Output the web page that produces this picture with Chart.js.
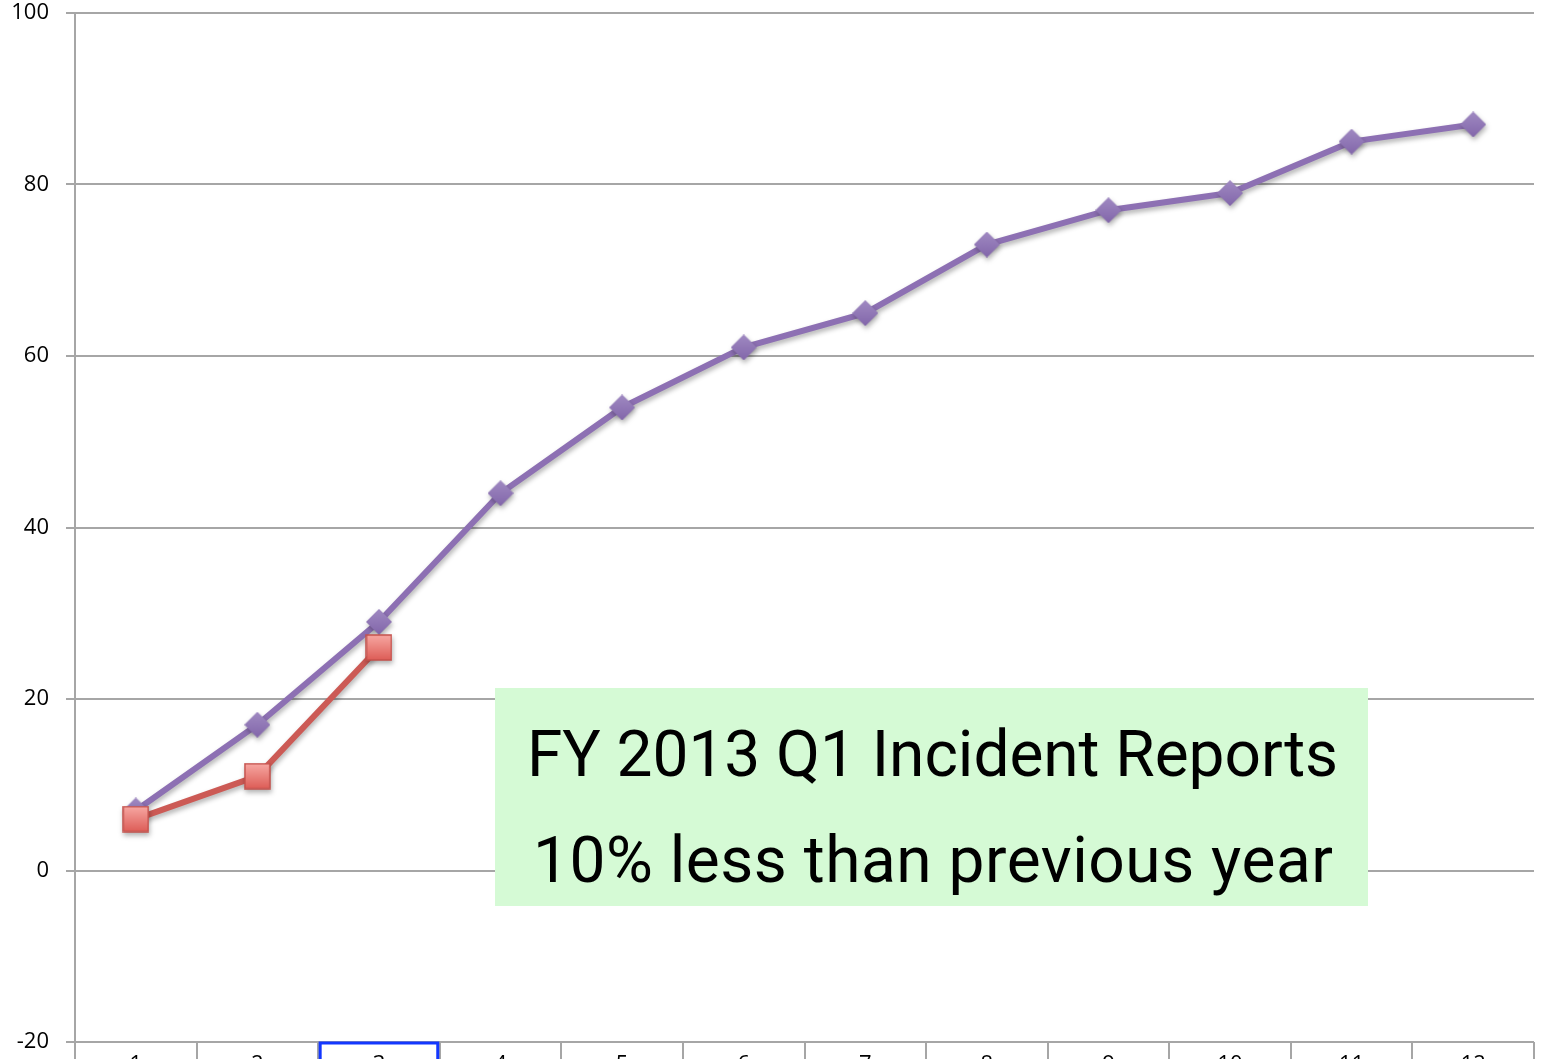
<!DOCTYPE html>
<html>
<head>
<meta charset="utf-8">
<script src="https://cdn.jsdelivr.net/npm/chart.js@4"></script>
<style>
  html, body { margin: 0; padding: 0; background: #fff; overflow: hidden; }
  #wrap { width: 1553px; height: 1096px; margin-top: -6px; }
</style>
</head>
<body>
<div id="wrap"><canvas id="chart"></canvas></div>
<script>
// Chart data
const months = ['1', '2', '3', '4', '5', '6', '7', '8', '9', '10', '11', '12'];
const previousYear = [7, 17, 29, 44, 54, 61, 65, 73, 77, 79, 85, 87];
const currentYear = [6, 11, 26];
const yTicks = [-20, 0, 20, 40, 60, 80, 100];
const noteLines = ['FY 2013 Q1 Incident Reports', '10% less than previous year'];

// canvas sits 6px above the page top
const shiftY = 6;

/**
 * Build marker images so they get a bit of shading like the original
 */
function makeSquare(size) {
    const c = document.createElement('canvas');
    c.width = size; c.height = size;
    const ctx = c.getContext('2d');
    const g = ctx.createLinearGradient(0, 0, 0, size);
    g.addColorStop(0, '#f8aaa5');
    g.addColorStop(1, '#dc5a54');
    ctx.fillStyle = g;
    ctx.fillRect(1, 1, size - 2, size - 2);
    ctx.strokeStyle = '#c4504b';
    ctx.lineWidth = 1.5;
    ctx.strokeRect(1, 1, size - 2, size - 2);
    return c;
}

function makeDiamond(size) {
    const c = document.createElement('canvas');
    c.width = size; c.height = size;
    const ctx = c.getContext('2d');
    const h = size / 2;
    const g = ctx.createLinearGradient(0, 0, 0, size);
    g.addColorStop(0, '#a08ac2');
    g.addColorStop(1, '#8266aa');
    ctx.fillStyle = g;
    ctx.beginPath();
    ctx.moveTo(h, 0);
    ctx.lineTo(size, h);
    ctx.lineTo(h, size);
    ctx.lineTo(0, h);
    ctx.closePath();
    ctx.fill();
    return c;
}

// Soft drop shadow under the series
const shadowPlugin = {
    id: 'shadow',
    beforeDatasetDraw(chart) {
        const ctx = chart.ctx;
        ctx.save();
        ctx.shadowColor = 'rgba(0,0,0,0.3)';
        ctx.shadowBlur = 5;
        ctx.shadowOffsetX = 1;
        ctx.shadowOffsetY = 3;
    },
    afterDatasetDraw(chart) {
        chart.ctx.restore();
    }
};

// Green note box and the selected category label outline
const notePlugin = {
    id: 'note',
    afterDraw(chart) {
        const ctx = chart.ctx;
        const x = chart.scales.x;
        ctx.save();

        // selected label box around category 3
        const half = (x.getPixelForValue(1) - x.getPixelForValue(0)) / 2;
        const cx = x.getPixelForValue(2);
        ctx.strokeStyle = '#1337ff';
        ctx.lineWidth = 3;
        ctx.strokeRect(cx - half + 2, chart.chartArea.bottom + 1, half * 2 - 4, 60);

        // note
        ctx.fillStyle = '#d5fad5';
        ctx.fillRect(495, 688 + shiftY, 873, 218);
        ctx.fillStyle = '#000';
        ctx.textAlign = 'left';
        ctx.textBaseline = 'alphabetic';
        const lefts = [527, 533];
        const widths = [811, 800];
        const baselines = [776, 882];
        ctx.font = '64px Roboto';
        noteLines.forEach((line, i) => {
            ctx.letterSpacing = '0px';
            const w = ctx.measureText(line).width;
            const sp = (widths[i] - w) / (line.length - 1);
            ctx.letterSpacing = sp.toFixed(2) + 'px';
            ctx.fillText(line, lefts[i], baselines[i] + shiftY);
        });
        ctx.restore();
    }
};

const gridColor = '#a6a6a6';

new Chart(document.getElementById('chart'), {
    type: 'line',
    data: {
        labels: months,
        datasets: [
            {
                label: 'FY 2013',
                data: currentYear,
                borderColor: '#cc5a55',
                borderWidth: 6,
                pointStyle: makeSquare(27),
                pointRadius: 13,
                tension: 0
            },
            {
                label: 'FY 2012',
                data: previousYear,
                borderColor: '#8d70b3',
                borderWidth: 6,
                pointStyle: makeDiamond(26),
                pointRadius: 13,
                tension: 0
            }
        ]
    },
    options: {
        responsive: true,
        maintainAspectRatio: false,
        animation: false,
        layout: { padding: { left: 0, right: 9, top: 12, bottom: 0 } },
        plugins: {
            legend: { display: false },
            tooltip: { enabled: false }
        },
        scales: {
            x: {
                offset: true,
                grid: {
                    offset: true,
                    drawOnChartArea: false,
                    drawTicks: true,
                    tickLength: 48,
                    color: gridColor,
                    lineWidth: 2
                },
                border: { display: false },
                ticks: {
                    padding: -38,
                    color: '#000',
                    font: { family: 'Open Sans', size: 22 },
                    maxRotation: 0
                },
                afterFit(scale) {
                    scale.height = 48;
                }
            },
            y: {
                min: -20,
                max: 100,
                afterBuildTicks(scale) {
                    scale.ticks = yTicks.map(v => ({ value: v }));
                },
                grid: {
                    color: gridColor,
                    lineWidth: 2,
                    tickLength: 9
                },
                border: { color: gridColor, width: 2 },
                ticks: {
                    padding: 17,
                    color: '#000',
                    font: { family: 'Open Sans', size: 22 }
                },
                afterFit(scale) {
                    scale.width = 75;
                    scale.paddingTop = 0;
                    scale.paddingBottom = 0;
                }
            }
        }
    },
    plugins: [shadowPlugin, notePlugin]
});
</script>
</body>
</html>
